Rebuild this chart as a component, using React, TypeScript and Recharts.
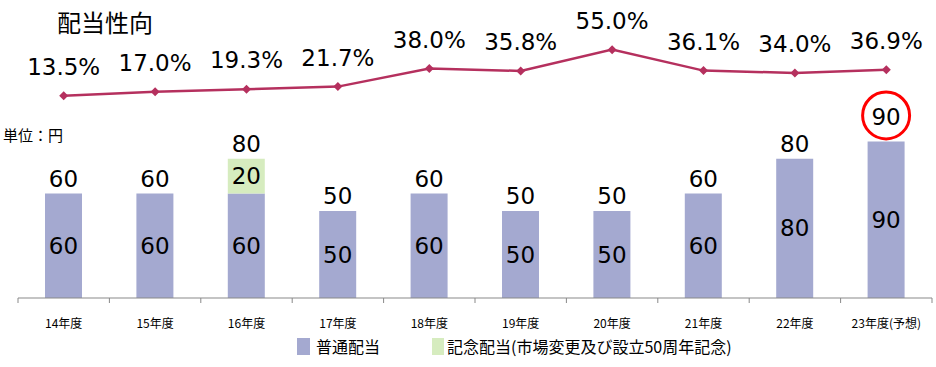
import {
  ComposedChart,
  Bar,
  Line,
  XAxis,
  YAxis,
  LabelList,
} from "recharts";

const years = [
  "14年度",
  "15年度",
  "16年度",
  "17年度",
  "18年度",
  "19年度",
  "20年度",
  "21年度",
  "22年度",
  "23年度(予想)",
];
const ordinary = [60, 60, 60, 50, 60, 50, 50, 60, 80, 90];
const memorial = [0, 0, 20, 0, 0, 0, 0, 0, 0, 0];
const payoutRatio = [13.5, 17.0, 19.3, 21.7, 38.0, 35.8, 55.0, 36.1, 34.0, 36.9];

const data = years.map((year, i) => ({
  year,
  ordinary: ordinary[i],
  memorial: memorial[i],
  total: ordinary[i] + memorial[i],
  ratio: payoutRatio[i],
}));

const NUM_FONT = "'DejaVu Sans', 'Noto Sans CJK JP', sans-serif";
const JP_FONT = "'Noto Sans CJK JP', sans-serif";
const BAR_BLUE = "#A4A9D0";
const BAR_GREEN = "#D6ECBF";
const LINE_COLOR = "#B5305E";
const BAND = 91.4;

const XTick = (props: any) => {
  const { x, y, payload, index } = props;
  return (
    <g>
      <line x1={x - BAND / 2} x2={x - BAND / 2} y1={y} y2={y + 5} stroke="#898989" />
      {index === years.length - 1 && (
        <line x1={x + BAND / 2} x2={x + BAND / 2} y1={y} y2={y + 5} stroke="#898989" />
      )}
      <text
        x={x}
        y={y + 24}
        textAnchor="middle"
        dominantBaseline="central"
        fontFamily={JP_FONT}
        fontSize={12}
        fill="#000"
      >
        {payload.value}
      </text>
    </g>
  );
};

const Diamond = (props: any) => {
  const { cx, cy } = props;
  if (cx == null || cy == null) return null;
  const r = 4.5;
  return (
    <polygon
      points={`${cx},${cy - r} ${cx + r},${cy} ${cx},${cy + r} ${cx - r},${cy}`}
      fill={LINE_COLOR}
    />
  );
};

const InsideLabel = (props: any) => {
  const { x, y, width, height, value } = props;
  if (!value) return null;
  return (
    <text
      x={x + width / 2}
      y={y + height / 2}
      textAnchor="middle"
      dominantBaseline="central"
      fontFamily={NUM_FONT}
      fontSize={23}
      fill="#000"
    >
      {value}
    </text>
  );
};

const TotalLabel = (props: any) => {
  const { x, y, width, value, circled } = props;
  if (value == null) return null;
  const cx = x + width / 2;
  const cy = y - (circled ? 24 : 15);
  return (
    <g>
      <text
        x={cx}
        y={cy}
        textAnchor="middle"
        dominantBaseline="central"
        fontFamily={NUM_FONT}
        fontSize={23}
        fill="#000"
      >
        {value}
      </text>
      {circled && (
        <circle cx={cx} cy={cy - 2} r={23.5} fill="none" stroke="#FF0000" strokeWidth={3} />
      )}
    </g>
  );
};

const OrdinaryTotal = (props: any) => (
  <TotalLabel {...props} circled={props.index === years.length - 1} />
);

const RatioLabel = (props: any) => {
  const { x, y, value } = props;
  return (
    <text
      x={x}
      y={y - 29}
      textAnchor="middle"
      dominantBaseline="central"
      fontFamily={NUM_FONT}
      fontSize={23}
      fill="#000"
    >
      {`${Number(value).toFixed(1)}%`}
    </text>
  );
};

export default function App() {
  return (
    <div style={{ position: "absolute", left: 0, top: 0, width: 936, height: 367, background: "#fff" }}>
      <ComposedChart
        width={936}
        height={367}
        data={data}
        margin={{ top: 0, right: 4, bottom: 0, left: 18 }}
      >
        <XAxis
          dataKey="year"
          height={69}
          tickSize={0}
          tickMargin={0}
          tickLine={false}
          axisLine={{ stroke: "#898989" }}
          tick={<XTick />}
          interval={0}
        />
        <YAxis yAxisId="bar" hide domain={[0, 171.3]} />
        <YAxis yAxisId="ratio" hide domain={[-168.7, 99.7]} />
        <Bar yAxisId="bar" dataKey="ordinary" stackId="d" fill={BAR_BLUE} barSize={37} isAnimationActive={false}>
          <LabelList dataKey="ordinary" content={<InsideLabel />} />
          <LabelList
            dataKey={(d: any) => (d.memorial > 0 ? null : d.total)}
            content={<OrdinaryTotal />}
          />
        </Bar>
        <Bar yAxisId="bar" dataKey="memorial" stackId="d" fill={BAR_GREEN} barSize={37} isAnimationActive={false}>
          <LabelList dataKey="memorial" content={<InsideLabel />} />
          <LabelList
            dataKey={(d: any) => (d.memorial > 0 ? d.total : null)}
            content={<TotalLabel />}
          />
        </Bar>
        <Line
          yAxisId="ratio"
          dataKey="ratio"
          type="linear"
          stroke={LINE_COLOR}
          strokeWidth={2.5}
          dot={<Diamond />}
          activeDot={false}
          isAnimationActive={false}
        >
          <LabelList dataKey="ratio" content={<RatioLabel />} />
        </Line>
      </ComposedChart>

      <div style={{ position: "absolute", left: 57, top: 6, fontFamily: JP_FONT, fontSize: 24, lineHeight: "32px", color: "#000" }}>
        配当性向
      </div>
      <div style={{ position: "absolute", left: 3, top: 125, fontFamily: JP_FONT, fontSize: 15, lineHeight: "20px", color: "#000" }}>
        単位：円
      </div>

      <div style={{ position: "absolute", left: 297, top: 337, display: "flex", alignItems: "center", fontFamily: JP_FONT, fontSize: 16, lineHeight: "18px", color: "#000" }}>
        <span style={{ display: "inline-block", width: 13, height: 17, background: BAR_BLUE, marginRight: 6 }} />
        <span style={{ marginRight: 52 }}>普通配当</span>
        <span style={{ display: "inline-block", width: 12, height: 17, background: BAR_GREEN, marginRight: 3 }} />
        <span>記念配当(市場変更及び設立50周年記念)</span>
      </div>
    </div>
  );
}
